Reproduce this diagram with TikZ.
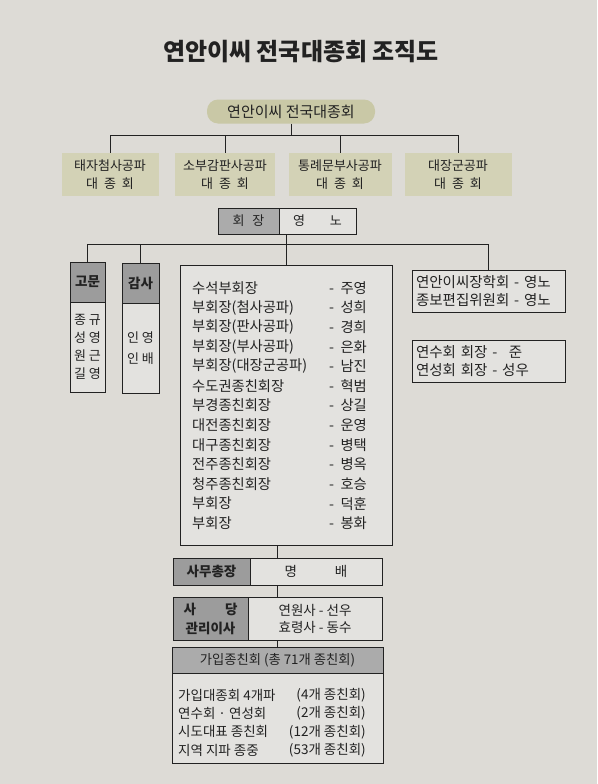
\documentclass[tikz,border=0pt]{standalone}
\usepackage{fontspec}
\setmainfont{Noto Sans CJK KR}
\newcommand\myfs[2]{\fontsize{#1}{#2}\selectfont}
\definecolor{bg}{HTML}{DDDBD6}
\definecolor{ink}{HTML}{222222}
\definecolor{beigeA}{HTML}{C9C8A6}
\definecolor{beigeB}{HTML}{D3D2B6}
\definecolor{hdrgray}{HTML}{9C9C9C}
\definecolor{hdrlight}{HTML}{ABABAB}
\definecolor{boxfill}{HTML}{E3E2DF}
\begin{document}
\begin{tikzpicture}[x=1pt,y=-1pt,
  box/.style={draw=ink, line width=0.9pt, fill=boxfill, inner sep=0pt, text=ink},
  hdr/.style={box, fill=hdrgray},
  beigebox/.style={fill=beigeB, inner sep=0pt, text=ink, align=center, font=\myfs{13}{18}},
  conn/.style={draw=ink, line width=0.8pt},
  txt/.style={inner sep=0pt, text=ink}]
\useasboundingbox (0,0) rectangle (597,784);
\fill[bg] (0,0) rectangle (597,784);

% title
\node[txt, font=\myfs{24}{26}\bfseries] (title) at (301,52) {연안이씨 전국대종회 조직도};

% top
\node[txt, fill=beigeA, rounded corners=11pt, minimum width=168pt, minimum height=24pt, font=\myfs{15}{16}]
  (top) at (291,111.5) {연안이씨 전국대종회};

\node[beigebox, minimum width=97pt, minimum height=43pt] (b1) at (110,174.5)
  {태자첨사공파\\대\hspace{0.45em}종\hspace{0.45em}회};
\node[beigebox, minimum width=100pt, minimum height=43pt] (b2) at (225,174.5)
  {소부감판사공파\\대\hspace{0.45em}종\hspace{0.45em}회};
\node[beigebox, minimum width=103pt, minimum height=43pt] (b3) at (340,174.5)
  {통례문부사공파\\대\hspace{0.45em}종\hspace{0.45em}회};
\node[beigebox, minimum width=107pt, minimum height=43pt] (b4) at (458,174.5)
  {대장군공파\\대\hspace{0.45em}종\hspace{0.45em}회};

\coordinate (bus1) at (0,135);
\draw[conn] (top.south) -- (top.south |- bus1);
\draw[conn] (b1.north) -- (b1.north |- bus1) -- (b4.north |- bus1) -- (b4.north);
\draw[conn] (b2.north) -- (b2.north |- bus1);
\draw[conn] (b3.north) -- (b3.north |- bus1);

% president
\node[box, fill=hdrlight, minimum width=61pt, minimum height=26pt, font=\myfs{13}{15}] (hj) at (248.5,221)
  {회\hspace{0.6em}장};
\node[box, minimum width=77pt, minimum height=26pt, font=\myfs{13}{15}] (yn) at (317.5,221)
  {영\hspace{1.9em}노};

% advisers
\node[hdr, minimum width=35pt, minimum height=40pt, font=\myfs{13.5}{15}\bfseries] (gm) at (87.5,282)
  {고문};
\node[box, minimum width=35pt, minimum height=90pt, align=center, font=\myfs{13}{18}] (gmb) at (87.5,347)
  {종\hspace{0.2em}규\\성\hspace{0.2em}영\\원\hspace{0.2em}근\\길\hspace{0.2em}영};
\node[hdr, minimum width=37pt, minimum height=40pt, font=\myfs{13.5}{15}\bfseries] (gs) at (140.5,283)
  {감사};
\node[box, minimum width=37pt, minimum height=90pt, align=center, font=\myfs{13}{21}] (gsb) at (140.5,348)
  {인\hspace{0.2em}영\\인\hspace{0.2em}배};

% list
\node[box, minimum width=212pt, minimum height=280pt] (list) at (286,405) {};
\foreach \i/\p/\q in {1/수석부회장/주영, 2/부회장(첨사공파)/성희, 3/부회장(판사공파)/경희,
  4/부회장(부사공파)/은화, 5/부회장(대장군공파)/남진, 6/수도권종친회장/혁범,
  7/부경종친회장/상길, 8/대전종친회장/운영, 9/대구종친회장/병택,
  10/전주종친회장/병옥, 11/청주종친회장/호승, 12/부회장/덕훈, 13/부회장/봉화}{
  \node[txt, anchor=west, font=\myfs{14.3}{16}] (la\i) at (192,{288+(\i-1)*19.6}) {\p};
  \node[txt, anchor=west, font=\myfs{14.3}{16}] (lb\i) at (329,{288+(\i-1)*19.6}) {-\hspace{0.45em}\q};
}

% right boxes
\node[box, minimum width=153pt, minimum height=42pt, align=left, text width=145pt, font=\myfs{14.5}{17.5}] (rb1) at (488.5,291)
  {연안이씨장학회 - 영노\\종보편집위원회 - 영노};
\node[box, minimum width=153pt, minimum height=42pt, align=left, text width=145pt, font=\myfs{14.5}{17.5}] (rb2) at (488.5,361)
  {연수회 회장 -\hspace{0.8em}준\\연성회 회장 - 성우};

\coordinate (bus2) at (0,244);
\draw[conn] (gm.north) -- (gm.north |- bus2) -- (rb1.north |- bus2) -- (rb1.north);
\draw[conn] (gs.north) -- (gs.north |- bus2);
\draw[conn] (list.north) -- (list.north |- yn.south);

% secretary general
\node[box, minimum width=209pt, minimum height=27pt] (sm) at (277.5,571.5) {};
\node[hdr, minimum width=77pt, minimum height=27pt, font=\myfs{13.5}{15}\bfseries] (smL) at (211.5,571.5)
  {사무총장};
\node[txt, font=\myfs{13.5}{15}] (smR) at (316,571.5) {명\hspace{2.8em}배};

% shrine
\node[box, minimum width=209pt, minimum height=43pt] (sd) at (277.5,618.5) {};
\node[hdr, minimum width=75pt, minimum height=43pt, align=center, font=\myfs{13.5}{19}\bfseries] (sdL) at (210.5,618.5)
  {\makebox[4em][s]{사\hfill 당}\\관리이사};
\node[txt, align=center, font=\myfs{13.5}{17}] (sdR) at (315,618.5) {연원사 - 선우\\효령사 - 동수};

% member clans
\node[box, fill=hdrlight, minimum width=211pt, minimum height=26pt, font=\myfs{13.3}{15}] (gj) at (277.5,660)
  {가입종친회 (총 71개 종친회)};
\node[box, minimum width=211pt, minimum height=90pt] (gjb) at (277.5,718) {};
\foreach \i/\p/\q in {1/가입대종회 4개파/(4개 종친회), 2/연수회 · 연성회/(2개 종친회),
  3/시도대표 종친회/(12개 종친회), 4/지역 지파 종중/(53개 종친회)}{
  \node[txt, anchor=west, font=\myfs{13.5}{15}] (ga\i) at (178,{695+(\i-1)*18.4}) {\p};
  \node[txt, anchor=east, font=\myfs{13.5}{15}] (gb\i) at (366,{695+(\i-1)*18.4}) {\q};
}

\draw[conn] (sm.north) -- (sm.north |- list.south);
\draw[conn] (sm.south) -- (sd.north);
\draw[conn] (sd.south) -- (gj.north);
\end{tikzpicture}
\end{document}
